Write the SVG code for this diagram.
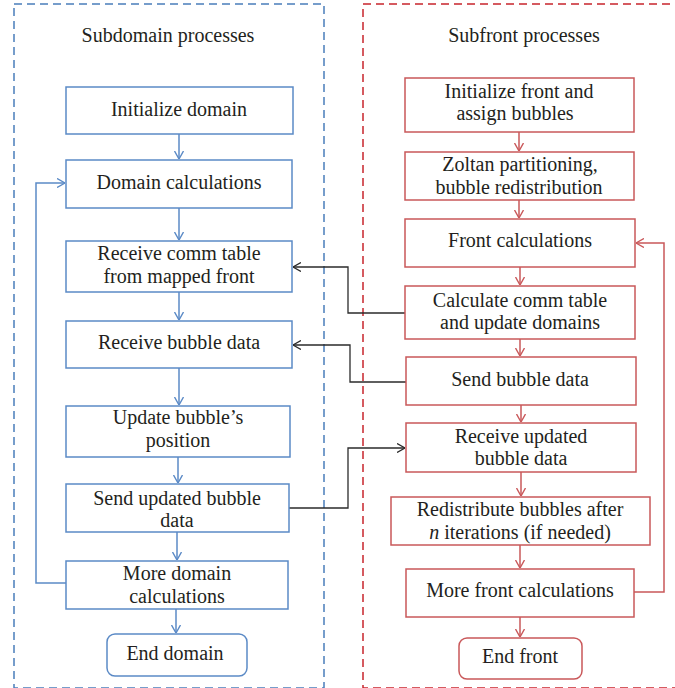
<svg xmlns="http://www.w3.org/2000/svg" width="675" height="688" viewBox="0 0 675 688">
<style>
text{font-size:20px;fill:#231f20;text-anchor:middle}
.bb{fill:#fff;stroke:#5b8ac6;stroke-width:1.5}
.rb{fill:#fff;stroke:#c9585a;stroke-width:1.5}
.bl{fill:none;stroke:#5b8ac6;stroke-width:1.5}
.rl{fill:none;stroke:#c9585a;stroke-width:1.5}
.kl{fill:none;stroke:#2b2b2b;stroke-width:1.3}
</style>
<defs>
<marker id="ab" viewBox="0 0 8 10" refX="8" refY="5" markerWidth="8" markerHeight="10" markerUnits="userSpaceOnUse" orient="auto"><path d="M0,0.5 L8,5 L0,9.5" fill="none" stroke="#5b8ac6" stroke-width="1.4"/></marker>
<marker id="ar" viewBox="0 0 8 10" refX="8" refY="5" markerWidth="8" markerHeight="10" markerUnits="userSpaceOnUse" orient="auto"><path d="M0,0.5 L8,5 L0,9.5" fill="none" stroke="#c9585a" stroke-width="1.4"/></marker>
<marker id="ak" viewBox="0 0 8 10" refX="8" refY="5" markerWidth="8" markerHeight="10" markerUnits="userSpaceOnUse" orient="auto"><path d="M0,0.5 L8,5 L0,9.5" fill="none" stroke="#2b2b2b" stroke-width="1.3"/></marker>
</defs>
<rect width="675" height="688" fill="#fff"/>
<g font-family="'Liberation Serif', 'DejaVu Serif', 'Times New Roman', serif">
<g id="subdomain-frame">
<rect x="14" y="4" width="310" height="684" fill="none" stroke="#4a7ebb" stroke-width="1.5" stroke-dasharray="8,5"/>
<text x="168" y="42">Subdomain processes</text>
</g>
<g id="subfront-frame">
<rect x="363" y="4" width="330" height="684" fill="none" stroke="#c8242c" stroke-width="1.5" stroke-dasharray="8,5"/>
<text x="524" y="42">Subfront processes</text>
</g>
<g id="connectors">
<path class="bl" d="M179,134 V159" marker-end="url(#ab)"/>
<path class="bl" d="M179,208 V240" marker-end="url(#ab)"/>
<path class="bl" d="M179,292 V320" marker-end="url(#ab)"/>
<path class="bl" d="M179,368 V405" marker-end="url(#ab)"/>
<path class="bl" d="M178,457 V483" marker-end="url(#ab)"/>
<path class="bl" d="M177,532 V560" marker-end="url(#ab)"/>
<path class="bl" d="M176,609 V633" marker-end="url(#ab)"/>
<path class="bl" d="M66,583 H36 V183 H65" marker-end="url(#ab)"/>
<path class="rl" d="M519,132 V151" marker-end="url(#ar)"/>
<path class="rl" d="M519,200 V218" marker-end="url(#ar)"/>
<path class="rl" d="M520,267 V285" marker-end="url(#ar)"/>
<path class="rl" d="M520,339 V356" marker-end="url(#ar)"/>
<path class="rl" d="M521,405 V422" marker-end="url(#ar)"/>
<path class="rl" d="M521,472 V496" marker-end="url(#ar)"/>
<path class="rl" d="M520,545 V568" marker-end="url(#ar)"/>
<path class="rl" d="M520,617 V637" marker-end="url(#ar)"/>
<path class="rl" d="M634,592 H664 V243 H636" marker-end="url(#ar)"/>
<path class="kl" d="M405,313 H348 V267 H293" marker-end="url(#ak)"/>
<path class="kl" d="M406,382 H350 V345 H293" marker-end="url(#ak)"/>
<path class="kl" d="M289,508 H348 V448 H405" marker-end="url(#ak)"/>
</g>
<g id="initialize-domain"><rect class="bb" x="66" y="87" width="227" height="47"/><text x="179" y="116">Initialize domain</text></g>
<g id="domain-calculations"><rect class="bb" x="66" y="160" width="226" height="48"/><text x="179" y="189">Domain calculations</text></g>
<g id="receive-comm-table"><rect class="bb" x="66" y="241" width="226" height="51"/><text x="179" y="260">Receive comm table</text><text x="179" y="283">from mapped front</text></g>
<g id="receive-bubble-data"><rect class="bb" x="66" y="321" width="226" height="47"/><text x="179" y="349">Receive bubble data</text></g>
<g id="update-position"><rect class="bb" x="66" y="406" width="224" height="51"/><text x="178" y="424">Update bubble’s</text><text x="178" y="447">position</text></g>
<g id="send-updated"><rect class="bb" x="66" y="484" width="223" height="48"/><text x="177" y="505">Send updated bubble</text><text x="177" y="527">data</text></g>
<g id="more-domain"><rect class="bb" x="66" y="561" width="222" height="48"/><text x="177" y="580">More domain</text><text x="177" y="603">calculations</text></g>
<g id="end-domain"><rect class="bb" x="107" y="634" width="140" height="42" rx="8"/><text x="175" y="660">End domain</text></g>
<g id="initialize-front"><rect class="rb" x="405" y="78" width="229" height="54"/><text x="519" y="98">Initialize front and</text><text x="515" y="120">assign bubbles</text></g>
<g id="zoltan"><rect class="rb" x="405" y="152" width="229" height="48"/><text x="520" y="171">Zoltan partitioning,</text><text x="519" y="194">bubble redistribution</text></g>
<g id="front-calculations"><rect class="rb" x="405" y="219" width="230" height="48"/><text x="520" y="247">Front calculations</text></g>
<g id="calculate-comm"><rect class="rb" x="405" y="286" width="230" height="53"/><text x="520" y="307">Calculate comm table</text><text x="520" y="329">and update domains</text></g>
<g id="send-bubble-data"><rect class="rb" x="406" y="357" width="230" height="48"/><text x="520" y="386">Send bubble data</text></g>
<g id="receive-updated"><rect class="rb" x="406" y="423" width="230" height="49"/><text x="521" y="443">Receive updated</text><text x="521" y="465">bubble data</text></g>
<g id="redistribute"><rect class="rb" x="391" y="497" width="259" height="48"/><text x="520" y="516">Redistribute bubbles after</text><text x="520" y="539"><tspan font-style="italic">n</tspan> iterations (if needed)</text></g>
<g id="more-front"><rect class="rb" x="406" y="569" width="228" height="48"/><text x="520" y="597">More front calculations</text></g>
<g id="end-front"><rect class="rb" x="459" y="638" width="123" height="41" rx="8"/><text x="520" y="663">End front</text></g>
</g>
</svg>
